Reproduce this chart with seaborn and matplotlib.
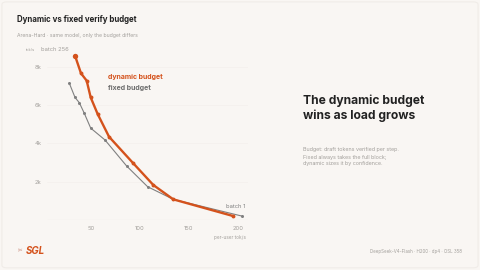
import matplotlib
matplotlib.use("Agg")
import matplotlib.pyplot as plt
import seaborn as sns
import pandas as pd
from matplotlib.patches import FancyBboxPatch

# ---- data ----
dyn_x = [33.7, 39.8, 45.6, 49.7, 56.8, 68.4, 93.2, 113.6, 134.0, 195.0]
dyn_y = [8580, 7660, 7275, 6400, 5535, 4350, 2960, 1830, 1080, 210]
fix_x = [27.9, 33.7, 38.1, 43.2, 49.7, 64.3, 86.4, 107.8, 134.0, 203.8]
fix_y = [7140, 6400, 6125, 5570, 4800, 4180, 2820, 1740, 1080, 210]
x_ticks = [50, 100, 150, 200]
y_ticks = [2000, 4000, 6000, 8000]
y_tick_labels = ["2k", "4k", "6k", "8k"]

BG = "#f9f6f3"
ORANGE = "#d4521c"
GRAY = "#808080"
DARK = "#222222"
LIGHT = "#a3a09c"

sns.set_theme(style="white")
plt.rcParams["font.family"] = ["Inter", "DejaVu Sans"]

fig = plt.figure(figsize=(4.8, 2.7), dpi=100, facecolor=BG)
fig.patches.append(FancyBboxPatch((0.004, 0.008), 0.992, 0.985,
                                  boxstyle="round,pad=0,rounding_size=0.01",
                                  transform=fig.transFigure, facecolor=BG,
                                  edgecolor="#f0ece8", linewidth=0.8, zorder=-1))

ax = fig.add_axes([0.0977, 0.185, 0.4185, 0.6385])
ax.set_facecolor("none")

df_dyn = pd.DataFrame({"x": dyn_x, "y": dyn_y})
df_fix = pd.DataFrame({"x": fix_x, "y": fix_y})

sns.lineplot(data=df_fix, x="x", y="y", sort=False, ax=ax, color=GRAY,
             linewidth=0.8, marker="o", markersize=2.2, markeredgewidth=0, zorder=3)
sns.lineplot(data=df_dyn, x="x", y="y", sort=False, ax=ax, color=ORANGE,
             linewidth=1.7, marker="o", markersize=2.8, markeredgewidth=0, zorder=4)
ax.scatter([dyn_x[0]], [dyn_y[0]], s=15, color=ORANGE, zorder=5, linewidths=0)

ax.set_xlim(5, 210)
ax.set_ylim(0, 9000)
ax.set_xticks(x_ticks)
ax.set_yticks(y_ticks)
ax.set_yticklabels(y_tick_labels)
ax.tick_params(axis="both", length=0, labelsize=4.2, labelcolor=LIGHT, pad=4)
ax.set_xlabel("")
ax.set_ylabel("")
for s in ax.spines.values():
    s.set_visible(False)
ax.axhline(0, color="#e6e2de", linewidth=0.8, zorder=1)
for yv in y_ticks:
    ax.axhline(yv, color="#f4f0ec", linewidth=0.5, zorder=0)

def ftext(px, py, s, **kw):
    fig.text(px / 480, 1 - py / 270, s, **kw)

ftext(17, 19, "Dynamic vs fixed verify budget", fontsize=5.7, fontweight="bold",
      color=DARK, va="center")
ftext(17, 35, "Arena-Hard · same model, only the budget differs", fontsize=3.7,
      color=LIGHT, va="center")
ftext(26, 50, "tok/s", fontsize=2.8, color=LIGHT, va="center")
ftext(41, 50, "batch 256", fontsize=4.2, color=LIGHT, va="center")
ftext(108, 77, "dynamic budget", fontsize=5, fontweight="bold", color=ORANGE, va="center")
ftext(108, 88, "fixed budget", fontsize=5, fontweight="bold", color="#6e6e6e", va="center")
ftext(245, 207, "batch 1", fontsize=4.2, color=GRAY, va="center", ha="right")
ftext(246, 238, "per-user tok/s", fontsize=3.4, color=LIGHT, va="center", ha="right")

ftext(303, 108, "The dynamic budget\nwins as load grows", fontsize=8.7,
      fontweight="bold", color=DARK, va="center", linespacing=1.25)
ftext(303, 157, "Budget: draft tokens verified per step.\nFixed always takes the full block;\ndynamic sizes it by confidence.",
      fontsize=3.9, color=LIGHT, va="center", linespacing=1.5)

ftext(26, 251, "SGL", fontsize=7, fontweight="bold", fontstyle="italic",
      color=ORANGE, va="center")
ftext(18, 251, "✂", fontsize=4, color="#c98a7a", va="center",
      family=["DejaVu Sans"])
ftext(462, 252, "DeepSeek-V4-Flash · H200 · dp4 · OSL 358", fontsize=3.2,
      color=LIGHT, va="center", ha="right")

fig.savefig("out.png", dpi=100, facecolor=BG)
